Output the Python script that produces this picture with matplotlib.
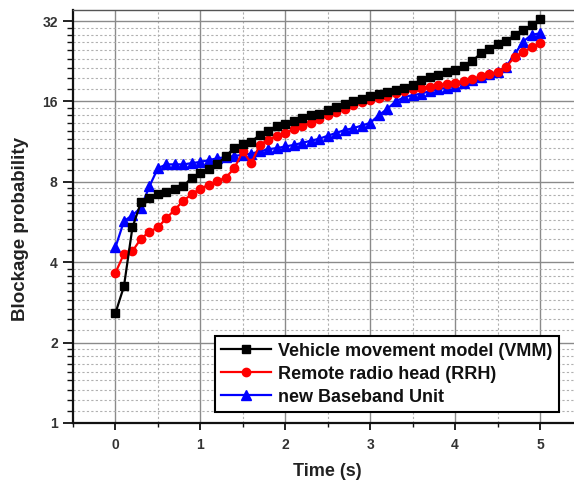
import numpy as np
import matplotlib
matplotlib.use("Agg")
import matplotlib.pyplot as plt
from matplotlib.ticker import FixedLocator, NullFormatter

plt.rcParams['font.family'] = ['Liberation Sans', 'DejaVu Sans']

time_s = [round(0.1 * i, 1) for i in range(51)]

vmm = [2.58, 3.25, 5.4, 6.7, 6.95, 7.2, 7.35, 7.5, 7.7, 8.3,
       8.6, 8.9, 9.3, 10.0, 10.7, 11.1, 11.3, 12.0, 12.4, 13.0,
       13.2, 13.5, 13.9, 14.2, 14.4, 14.8, 15.2, 15.6, 16.0, 16.4,
       16.8, 17.1, 17.3, 17.6, 18.0, 18.4, 19.2, 19.7, 20.1, 20.6,
       21.0, 21.8, 22.6, 24.2, 25.2, 26.3, 27.0, 28.3, 29.5, 30.9,
       32.5]

rrh = [3.65, 4.3, 4.4, 4.9, 5.2, 5.4, 5.85, 6.3, 6.8, 7.2,
       7.55, 7.8, 8.05, 8.3, 9.0, 10.4, 9.4, 11.0, 11.5, 11.9,
       12.2, 12.6, 13.0, 13.3, 13.7, 14.2, 14.6, 15.0, 15.5, 15.9,
       16.2, 16.5, 16.8, 17.2, 17.5, 17.8, 18.0, 18.2, 18.4, 18.6,
       18.8, 19.1, 19.4, 19.9, 20.2, 20.6, 21.5, 23.5, 24.5, 25.5,
       26.5]

bbu = [4.55, 5.7, 6.0, 6.4, 7.7, 9.0, 9.3, 9.3, 9.3, 9.4,
       9.5, 9.65, 9.8, 9.9, 10.0, 10.1, 10.2, 10.4, 10.6, 10.7,
       10.85, 11.0, 11.2, 11.4, 11.6, 11.9, 12.2, 12.5, 12.7, 13.0,
       13.3, 14.2, 15.0, 16.0, 16.6, 16.9, 17.1, 17.5, 17.8, 18.0,
       18.3, 18.8, 19.2, 19.7, 20.2, 20.7, 21.6, 24.0, 26.8, 28.4,
       28.8]

labels = ["Vehicle movement model (VMM)", "Remote radio head (RRH)",
          "new Baseband Unit"]
y_major = [1, 2, 4, 8, 16, 32]
x_major = [0, 1, 2, 3, 4, 5]

fig = plt.figure(figsize=(5.74, 4.84), dpi=100)
ax = fig.add_axes([73 / 574, 1 - 423 / 484, 1 - 73 / 574, (423 - 10) / 484])

ax.plot(time_s, vmm, color='black', marker='s', markersize=6, lw=1.6, label=labels[0], zorder=5)
ax.plot(time_s, rrh, color='red', marker='o', markersize=6, lw=1.6, label=labels[1], zorder=4)
ax.plot(time_s, bbu, color='blue', marker='^', markersize=7, lw=1.6, label=labels[2], zorder=3)

ax.set_yscale('log', base=2)
ax.set_ylim(1, 35.2)
ax.set_xlim(-0.5, 5.4)

ax.yaxis.set_major_locator(FixedLocator(y_major))
ax.set_yticklabels([str(v) for v in y_major])
minor_y = []
for lo in y_major[:-1]:
    minor_y += [lo + lo * k / 9 for k in range(1, 9)]
minor_y += [32 + 32 * k / 9 for k in range(1, 2)]
ax.yaxis.set_minor_locator(FixedLocator(minor_y))
ax.yaxis.set_minor_formatter(NullFormatter())

ax.xaxis.set_major_locator(FixedLocator(x_major))
ax.set_xticklabels([str(v) for v in x_major])
ax.xaxis.set_minor_locator(FixedLocator([-0.5, 0.5, 1.5, 2.5, 3.5, 4.5]))

ax.grid(which='major', color='#8a8a8a', lw=1.0, ls='-', zorder=0)
ax.grid(which='minor', color='#b0b0b0', lw=0.8, ls=(0, (2, 2)), zorder=0)
ax.set_axisbelow(True)

for s in ['left', 'bottom']:
    ax.spines[s].set_linewidth(1.6)
    ax.spines[s].set_color('#111111')
ax.spines['top'].set_color('#555555')
ax.spines['top'].set_linewidth(1.0)
ax.spines['right'].set_visible(False)

ax.tick_params(which='major', direction='out', width=1.3, color='#111111',
               labelsize=10, labelcolor='#333333')
ax.tick_params(which='minor', direction='out', width=1.0, color='#111111')
ax.tick_params(axis='y', which='major', length=7, pad=4)
ax.tick_params(axis='y', which='minor', length=4.3)
ax.tick_params(axis='x', which='major', length=5, pad=6)
ax.tick_params(axis='x', which='minor', length=3)
for lab in ax.get_xticklabels() + ax.get_yticklabels():
    lab.set_fontweight('bold')

ax.set_xlabel('Time (s)', fontsize=13, fontweight='bold', color='#222222')
ax.xaxis.set_label_coords(0.507, -0.098)
ax.set_ylabel('Blockage probability', fontsize=13.5, fontweight='bold', color='#222222')
ax.yaxis.set_label_coords(-0.088, 0.47)

leg = ax.legend(loc='lower right', bbox_to_anchor=(0.970, 0.027), borderaxespad=0,
                fancybox=False, framealpha=1, edgecolor='black', handlelength=2.75,
                handletextpad=0.4, labelspacing=0.33, borderpad=0.35,
                prop={'size': 13, 'weight': 'bold'})
leg.get_frame().set_linewidth(1.5)
for t in leg.get_texts():
    t.set_color('#111111')

fig.savefig('out.png', dpi=100)
